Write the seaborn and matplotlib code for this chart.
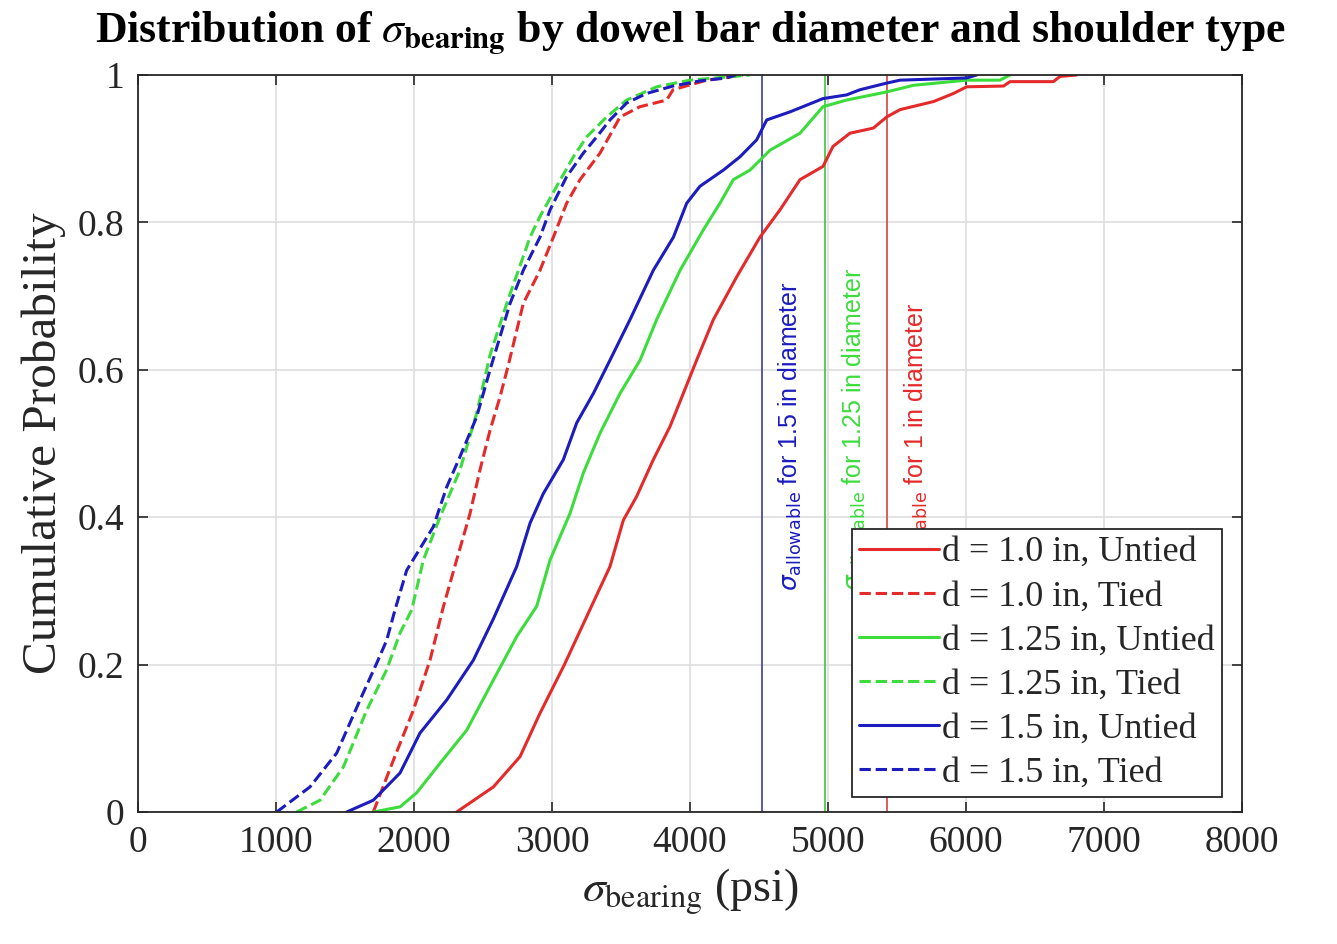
import numpy as np
import pandas as pd
import matplotlib
matplotlib.use("Agg")
import matplotlib.pyplot as plt
import seaborn as sns

# ---------------- data ----------------
x_d10_untied = [2309, 2575, 2768, 2913, 3090, 3251, 3420, 3517, 3613, 3734, 3855, 4048, 4169, 4338,
                4507, 4652, 4797, 4964, 5036, 5159, 5329, 5425, 5522, 5765, 5910, 6005, 6272, 6319,
                6633, 6681, 6802]
y_d10_untied = [0, .034, .075, .134, .2, .265, .333, .396, .428, .478, .523, .613, .668, .726,
                .78, .817, .858, .876, .903, .921, .928, .943, .953, .964, .975, .984, .985, .991,
                .991, .998, 1.0]

x_d10_tied = [1705, 1850, 1995, 2116, 2212, 2309, 2406, 2478, 2551, 2623, 2683, 2792, 2913, 3010,
              3106, 3203, 3348, 3493, 3638, 3831, 3877, 4121, 4384]
y_d10_tied = [0, .07, .138, .206, .278, .342, .405, .464, .518, .563, .606, .69, .735, .78,
              .826, .858, .894, .943, .957, .966, .98, .993, 1.0]

x_d125_untied = [1705, 1899, 2019, 2188, 2382, 2575, 2744, 2889, 2986, 3130, 3227, 3348, 3493, 3638,
                 3758, 3928, 4097, 4217, 4314, 4435, 4580, 4797, 4964, 5135, 5425, 5618, 6005,
                 6246, 6319]
y_d125_untied = [0, .007, .026, .066, .111, .179, .238, .279, .342, .405, .46, .514, .568, .613,
                 .668, .735, .79, .826, .858, .871, .898, .921, .957, .966, .977, .986, .993,
                 .993, 1.0]

x_d125_tied = [1150, 1319, 1488, 1657, 1802, 1899, 1983, 2068, 2188, 2333, 2454, 2551, 2672, 2841,
               2913, 3034, 3155, 3251, 3396, 3541, 3759, 4000, 4435]
y_d125_tied = [0, .016, .061, .138, .193, .243, .274, .342, .4, .464, .541, .62, .69, .78,
               .808, .849, .889, .916, .943, .966, .984, .993, 1.0]

x_d15_untied = [1512, 1705, 1899, 2043, 2237, 2430, 2575, 2744, 2841, 2937, 3082, 3179, 3300, 3420,
                3565, 3734, 3880, 3976, 4072, 4242, 4362, 4483, 4556, 4725, 4964, 5135, 5232, 5425,
                5522, 6005, 6077]
y_d15_untied = [0, .016, .053, .107, .152, .206, .262, .333, .392, .432, .478, .528, .568, .613,
                .668, .735, .78, .826, .849, .871, .889, .912, .939, .95, .968, .973, .98, .989,
                .993, .996, 1.0]

x_d15_tied = [1005, 1246, 1440, 1609, 1730, 1802, 1862, 1947, 2140, 2237, 2333, 2454, 2551, 2696,
              2792, 2913, 2986, 3106, 3227, 3324, 3420, 3541, 3686, 3877, 4072, 4266, 4330]
y_d15_tied = [0, .034, .08, .152, .202, .233, .274, .328, .387, .441, .482, .536, .6, .69,
              .735, .78, .817, .862, .894, .916, .939, .962, .975, .985, .992, .996, 1.0]

series_labels = ["d = 1.0 in, Untied", "d = 1.0 in, Tied",
                 "d = 1.25 in, Untied", "d = 1.25 in, Tied",
                 "d = 1.5 in, Untied", "d = 1.5 in, Tied"]

allowable_values = [4520, 4980, 5430]          # 1.5 in, 1.25 in, 1.0 in
allowable_labels = [r"$\sigma_{\mathrm{allowable}}$ for 1.5 in diameter",
                    r"$\sigma_{\mathrm{allowable}}$ for 1.25 in diameter",
                    r"$\sigma_{\mathrm{allowable}}$ for 1 in diameter"]

x_ticks = [0, 1000, 2000, 3000, 4000, 5000, 6000, 7000, 8000]
x_tick_labels = ["0", "1000", "2000", "3000", "4000", "5000", "6000", "7000", "8000"]
y_ticks = [0, 0.2, 0.4, 0.6, 0.8, 1.0]
y_tick_labels = ["0", "0.2", "0.4", "0.6", "0.8", "1"]

# ---------------- styling ----------------
RED = "#e42a2a"
GREEN = "#3cdc3c"
BLUE = "#1c1cbf"

sns.set_theme(style="white")
plt.rcParams["font.family"] = ["Liberation Serif", "DejaVu Serif"]
plt.rcParams["mathtext.fontset"] = "stix"

fig = plt.figure(figsize=(13.37, 9.44), dpi=100)
ax = fig.add_axes([138 / 1337, 1 - 812 / 944, (1242 - 138) / 1337, (812 - 75) / 944])

curves = [
    (x_d10_untied, y_d10_untied, RED, "-"),
    (x_d10_tied, y_d10_tied, RED, "--"),
    (x_d125_untied, y_d125_untied, GREEN, "-"),
    (x_d125_tied, y_d125_tied, GREEN, "--"),
    (x_d15_untied, y_d15_untied, BLUE, "-"),
    (x_d15_tied, y_d15_tied, BLUE, "--"),
]

handles = []
for (xs, ys, col, ls), lab in zip(curves, series_labels):
    df = pd.DataFrame({"x": xs, "y": ys})
    sns.lineplot(data=df, x="x", y="y", ax=ax, color=col, linestyle=ls,
                 linewidth=2.2, estimator=None, sort=False, label=lab, legend=False)
    handles.append(ax.lines[-1])

# allowable lines + rotated labels
allow_cols = [BLUE, GREEN, RED]
line_cols = ["#4a4aa8", "#4cc84c", "#d85050"]
for val, lab, tc, lc in zip(allowable_values, allowable_labels, allow_cols, line_cols):
    ax.axvline(val, color=lc, linewidth=1.3, zorder=1.5)
    ax.text(val + 110, 0.30, lab, rotation=90, ha="left", va="bottom", color=tc,
            fontsize=18, family=["Liberation Sans", "DejaVu Sans"],
            math_fontfamily="dejavusans", zorder=1.6)

ax.set_xlim(0, 8000)
ax.set_ylim(0, 1)
ax.set_xticks(x_ticks)
ax.set_xticklabels(x_tick_labels)
ax.set_yticks(y_ticks)
ax.set_yticklabels(y_tick_labels)

ax.grid(True, color="#dedede", linewidth=1.2)
ax.set_axisbelow(True)
for sp in ax.spines.values():
    sp.set_color("#262626")
    sp.set_linewidth(1.3)
    sp.set_visible(True)
ax.tick_params(axis="both", which="both", direction="in", length=7, width=1.2,
               color="#262626", labelsize=27, labelcolor="#262626",
               top=True, right=True, bottom=True, left=True, pad=10)

ax.set_xlabel(r"$\sigma_{\mathrm{bearing}}$ (psi)", fontsize=33, color="#262626", labelpad=4)
ax.set_ylabel("Cumulative Probability", fontsize=35.5, color="#262626", labelpad=8)
ax.set_title(r"Distribution of $\sigma_{\mathbf{bearing}}$ by dowel bar diameter and shoulder type",
             fontsize=31.5, fontweight="bold", color="black", pad=24)

leg = ax.legend(handles=handles, labels=series_labels, loc="lower right",
                bbox_to_anchor=(0.982, 0.0204), borderaxespad=0, fontsize=26,
                frameon=True, fancybox=False, framealpha=1, edgecolor="#262626",
                handlelength=2.2, handletextpad=0.1, labelspacing=0.3,
                borderpad=0.2)
leg.get_frame().set_linewidth(1.3)
leg.set_zorder(5)
for t in leg.get_texts():
    t.set_color("#262626")

fig.savefig("out.png", dpi=100)
